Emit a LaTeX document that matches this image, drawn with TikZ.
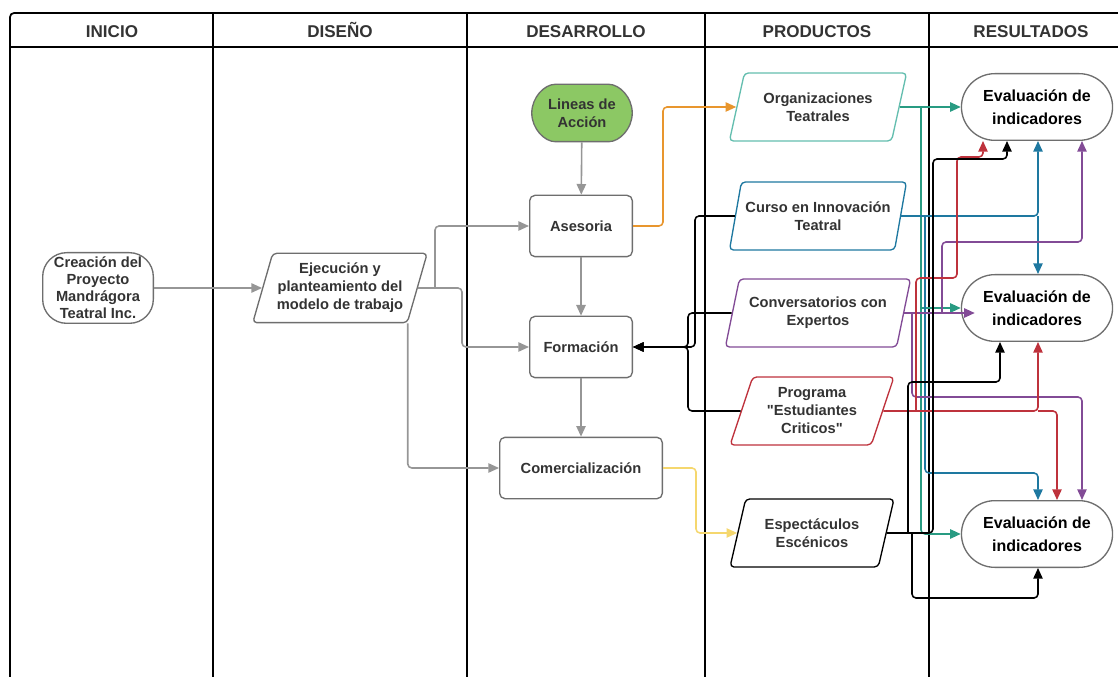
\documentclass[tikz,border=0pt]{standalone}
\usepackage{fontspec}
\setmainfont{Liberation Sans}[Ligatures=TeXOff]
\usetikzlibrary{shapes.geometric,shapes.misc,arrows.meta,calc}
\definecolor{txt}{RGB}{51,51,51}
\definecolor{linegray}{RGB}{150,150,150}
\definecolor{boxgray}{RGB}{110,110,110}
\definecolor{verde}{RGB}{140,200,100}
\definecolor{naranja}{RGB}{232,150,46}
\definecolor{amarillo}{RGB}{245,215,110}
\definecolor{turq}{RGB}{40,155,130}
\definecolor{turqbox}{RGB}{100,190,175}
\definecolor{azul}{RGB}{30,120,160}
\definecolor{morado}{RGB}{130,75,150}
\definecolor{rojo}{RGB}{190,50,60}
\begin{document}
\begin{tikzpicture}[x=0.75pt,y=-0.75pt,line join=round,
    >={Triangle[length=8pt,width=7pt]},
    font=\fontsize{11}{13.5}\selectfont\bfseries]
    \tikzset{lane/.style={draw=black,line width=1.3pt},
        header/.style={text=txt,text height=9.5pt,text depth=0pt,
            font=\fontsize{12.8}{14}\selectfont\bfseries},
        proc/.style={draw=boxgray,line width=1pt,rounded corners=4pt,fill=white,
            text=txt,align=center,minimum height=46pt},
        datos/.style={trapezium,trapezium left angle=70,trapezium right angle=110,
            trapezium stretches=true,rounded corners=3pt,line width=1pt,fill=white,
            text=txt,align=center,minimum height=51pt,inner sep=1pt},
        evalbox/.style={rounded rectangle,draw=boxgray,line width=1pt,fill=white,
            text=black,align=center,minimum width=120pt,minimum height=50pt,
            font=\fontsize{12}{17}\selectfont\bfseries},
        conn/.style={line width=1.2pt,rounded corners=3pt,->},
        gris/.style={conn,draw=linegray}
    }
    \useasboundingbox (0,0) rectangle (1118,677);
    % carriles
    \draw[lane,rounded corners=3pt] (10,677) -- (10,13) -- (1118,13);
    \draw[lane] (10,47) -- (1118,47);
    \foreach \xl in {213,467,705,929}
        \draw[lane] (\xl,13) -- (\xl,677);
    \node[header] at (112,31) {INICIO};
    \node[header] at (340,31) {DISEÑO};
    \node[header] at (586,31) {DESARROLLO};
    \node[header] at (817,31) {PRODUCTOS};
    \node[header] at (1031,31) {RESULTADOS};
    % nodos
    \node[proc,rounded corners=18pt,minimum width=83pt,minimum height=53pt,inner sep=0pt,
        font=\fontsize{11}{12.8}\selectfont\bfseries] (crea) at (98,288)
        {Creación del\\Proyecto\\Mandrágora\\Teatral Inc.};
    \node[datos,draw=boxgray,minimum width=131pt,minimum height=52pt] (ejec) at (340,288)
        {Ejecución y\\planteamiento del\\modelo de trabajo};
    \node[proc,rounded rectangle,fill=verde,minimum width=82pt,minimum height=43pt] (lineas) at (582,113)
        {Lineas de\\Acción};
    \node[proc,minimum width=77pt] (ases) at (581,226) {Asesoria};
    \node[proc,minimum width=77pt] (form) at (581,347) {Formación};
    \node[proc,minimum width=122pt] (comer) at (581,468) {Comercialización};
    \node[datos,draw=turqbox,minimum width=133pt] (org) at (818,107) {Organizaciones\\Teatrales};
    \node[datos,draw=azul,minimum width=133pt] (curso) at (818,216) {Curso en Innovación\\Teatral};
    \node[datos,draw=morado,minimum width=139pt] (conv) at (818,313) {Conversatorios con\\Expertos};
    \node[datos,draw=rojo,minimum width=124pt] (prog) at (812,411)
        {Programa\\"Estudiantes\\Criticos"};
    \node[datos,draw=black,minimum width=124pt] (espec) at (812,533) {Espectáculos\\Escénicos};
    \node[evalbox] (eval1) at (1037,107) {Evaluación de\\indicadores};
    \node[evalbox] (eval2) at (1037,308) {Evaluación de\\indicadores};
    \node[evalbox] (eval3) at (1037,534) {Evaluación de\\indicadores};
    % diseño y desarrollo
    \draw[gris] (crea.east) -- (ejec.west);
    \draw[gris] (ejec.east) -- (462,288) |- (form.west);
    \draw[gris] (435,288) |- (ases.west);
    \draw[gris] (ejec.bottom right corner) |- (comer.west);
    \draw[gris] (lineas) -- (ases);
    \draw[gris] (ases) -- (form);
    \draw[gris] (form) -- (comer);
    \draw[conn,naranja] (ases.east) -- (663,226) |- (org.west);
    \draw[conn,amarillo] (comer.east) -- (696,468) |- (espec.west);
    % productos hacia formación
    \draw[conn,black] (curso.west) -- (695,216) |- (form.east);
    \draw[conn,black] (conv.west) -- (688,313) |- (form.east);
    \draw[conn,black] (prog.west) -- (688,411) |- (form.east);
    % turquesa
    \draw[conn,turq] (org.east) -- (eval1.west);
    \draw[conn,turq] (921,107) |- (eval3.west);
    \draw[conn,turq] (921,308) -- (eval2.west);
    % azul
    \draw[conn,azul] (curso.east) -| ($(eval1.south)+(1,0)$);
    \draw[conn,azul] (1038,216) -- ($(eval2.north)+(1,0)$);
    \draw[conn,azul] (925,216) -- (925,473) -| ($(eval3.north)+(1,0)$);
    % morado
    \draw[conn,morado] (conv.east) -- ($(conv.east -| eval2.west)+(14,0)$);
    \draw[conn,morado] (942,313) -- (942,242) -| ($(eval1.south)+(45,0)$);
    \draw[conn,morado] (912,313) -- (912,397) -| ($(eval3.north)+(45,0)$);
    % rojo
    \draw[conn,rojo] (prog.east) -| ($(eval2.south)+(1,0)$);
    \draw[conn,rojo] (1038,411) -- (1057,411) -- ($(eval3.north)+(20,0)$);
    \draw[conn,rojo] (916,411) -- (916,278) -- (957,278) -- (957,157) -| ($(eval1.south)+(-54,0)$);
    % negro
    \draw[conn,black] (espec.east) -- (933,533) -- (933,159) -| ($(eval1.south)+(-30,0)$);
    \draw[conn,black] (908,533) -- (908,382) -| ($(eval2.south)+(-37,0)$);
    \draw[conn,black] (912,533) -- (912,598) -| ($(eval3.south)+(1,0)$);
\end{tikzpicture}
\end{document}
